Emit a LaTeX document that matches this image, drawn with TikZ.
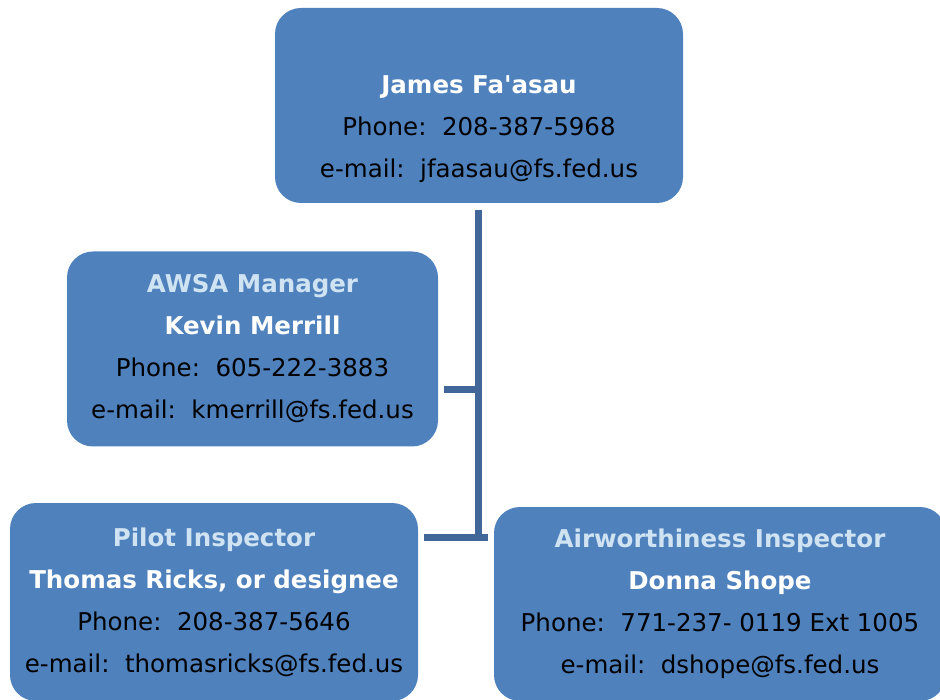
\documentclass[tikz,border=0pt]{standalone}
\usepackage{fontspec}
\setmainfont{DejaVu Sans}
\definecolor{boxblue}{HTML}{4F81BD}
\definecolor{titleblue}{HTML}{CFE3F2}
\definecolor{linkblue}{HTML}{41679A}
\newcommand{\role}[1]{\textbf{\color{titleblue}#1}}
\newcommand{\who}[1]{\textbf{\color{white}#1}}

\begin{document}
\begin{tikzpicture}[x=1pt,y=-1pt,
    person/.style={fill=boxblue,rounded corners=26pt,inner sep=0pt,align=center,
      font=\fontsize{24.5}{42}\selectfont},
    link/.style={draw=linkblue,line width=7pt}]
  \useasboundingbox (0,0) rectangle (940,700);
  % boxes
  \node[person,minimum width=408pt,minimum height=195pt] (chief) at (479,105.5)
    {\strut\\[-6pt] \who{James Fa\textquotesingle asau}\\ Phone:\ \ 208-387-5968\\ e-mail:\ \ jfaasau@fs.fed.us};
  \node[person,minimum width=371pt,minimum height=195pt] (awsa) at (252.5,349)
    {\role{AWSA Manager}\\ \who{Kevin Merrill}\\ Phone:\ \ 605-222-3883\\ e-mail:\ \ kmerrill@fs.fed.us};
  \node[person,minimum width=408pt,minimum height=198pt] (pilot) at (214,602)
    {\role{Pilot Inspector}\\ \who{Thomas Ricks, or designee}\\ Phone:\ \ 208-387-5646\\ e-mail:\ \ thomasricks@fs.fed.us};
  \node[person,minimum width=452pt,minimum height=194pt] (airw) at (720,604)
    {\role{Airworthiness Inspector}\\ \who{Donna Shope}\\ Phone:\ \ 771-237- 0119 Ext 1005\\ e-mail:\ \ dshope@fs.fed.us};
  % connectors
  \coordinate (kneeA) at (478,390);
  \coordinate (kneeB) at (478,537);
  \draw[link] ([yshift=-7pt]chief.south -| kneeB) -- ([yshift=-3.5pt]kneeB);
  \draw[link] (kneeA) -- ([xshift=6pt]awsa.east |- kneeA);
  \draw[link] ([xshift=6pt]pilot.east |- kneeB) -- ([xshift=-6pt]airw.west |- kneeB);
\end{tikzpicture}
\end{document}
